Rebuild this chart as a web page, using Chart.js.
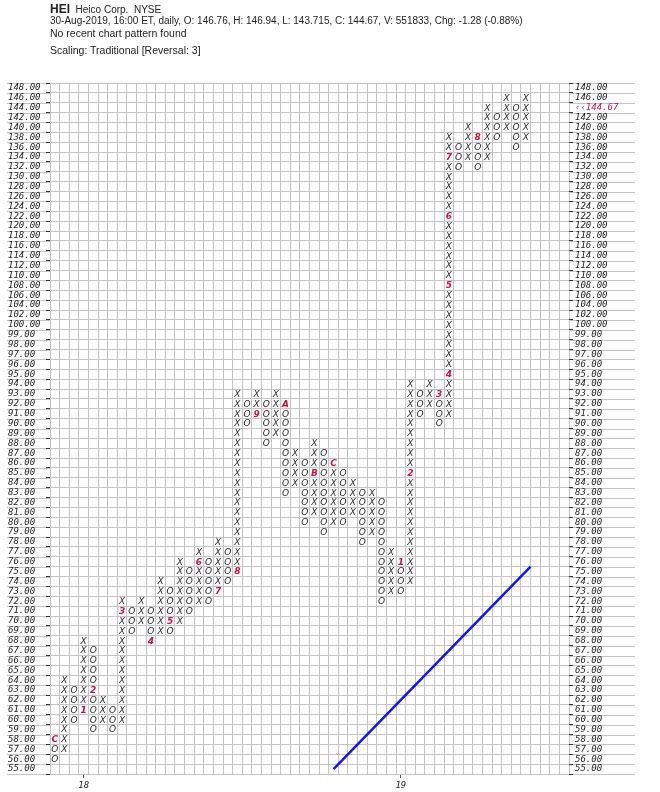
<!DOCTYPE html>
<html>
<head>
<meta charset="utf-8">
<script src="https://cdn.jsdelivr.net/npm/chart.js@4.4.1/dist/chart.umd.min.js"></script>
<style>
  html, body { margin: 0; padding: 0; background: #ffffff; }
  #wrap { position: relative; width: 660px; height: 792px; overflow: hidden; }
  #c { position: absolute; left: 0; top: 0; }
  .hdr { position: absolute; left: 50px; font-family: "Liberation Sans", Arial, sans-serif; color: #222; white-space: nowrap; }
</style>
</head>
<body>
<div id="wrap">
  <canvas id="c" width="660" height="792"></canvas>
  <div class="hdr" style="top:1px; line-height:14px;"><b style="font-size:12px;">HEI</b><span style="font-size:10px;">&nbsp; Heico Corp.&nbsp; NYSE</span></div>
  <div class="hdr" style="top:15px; font-size:10px; line-height:12px;">30-Aug-2019, 16:00 ET, daily, O: 146.76, H: 146.94, L: 143.715, C: 144.67, V: 551833, Chg: -1.28 (-0.88%)</div>
  <div class="hdr" style="top:27px; font-size:10.5px; line-height:12px;">No recent chart pattern found</div>
  <div class="hdr" style="top:44px; font-size:10.5px; line-height:12px;">Scaling: Traditional [Reversal: 3]</div>
</div>
<script>
// ---- price levels (box values, bottom to top) ----
const priceLevels = [55,56,57,58,59,60,61,62,63,64,65,66,67,68,69,70,71,72,73,74,75,76,77,78,79,
  80,81,82,83,84,85,86,87,88,89,90,91,92,93,94,95,96,97,98,99,
  100,102,104,106,108,110,112,114,116,118,120,122,124,126,128,130,132,134,136,138,140,142,144,146,148];
const lastPriceLabel = '\u2039\u2039144.67';
const lastPriceLevel = 144;

// ---- point & figure columns ----
const colKind   = ['O','X','O','X','O','X','O','X','O','X','O','X','O','X','O','X','O','X','O','X',
                   'O','X','O','X','O','X','O','X','O','X','O','X','O','X','O','X','O','X','O','X',
                   'O','X','O','X','O','X','O','X','O','X'];
const colHigh   = [58,64,63,68,67,62,61,72,71,72,71,74,73,76,75,77,76,78,77,93,
                   92,93,92,93,92,87,86,88,87,86,85,84,83,83,82,77,76,94,93,94,
                   93,138,136,140,138,144,142,146,144,146];
const colLow    = [56,57,60,61,59,60,59,60,69,70,68,69,69,70,71,72,72,73,74,75,
                   90,91,88,89,83,84,80,81,79,80,80,81,78,79,72,73,73,74,91,92,
                   90,91,132,134,132,134,138,140,136,138];

// ---- month markers (column, price, text) ----
const markerCol   = [0, 3, 4, 7, 10, 12, 15, 17, 19, 21, 24, 27, 29, 36, 37, 40, 41, 41, 41, 41, 44];
const markerPrice = [58, 61, 63, 71, 68, 70, 76, 73, 75, 91, 92, 85, 86, 76, 85, 93, 95, 108, 122, 134, 138];
const markerText  = ['C','1','2','3','4','5','6','7','8','9','A','B','C','1','2','3','4','5','6','7','8'];

// ---- year labels on the x axis ----
const yearCols   = [3, 36];
const yearLabels = ['18', '19'];

// ---- trend line (column, price) ----
const trendCols   = [29, 49.5];
const trendPrices = [55, 75.5];

const totalCols = 54;

// price -> box (row) index
function rowOf(p) {
  for (let i = 0; i < priceLevels.length - 1; i++) {
    if (p >= priceLevels[i] && p <= priceLevels[i + 1]) {
      return i + (p - priceLevels[i]) / (priceLevels[i + 1] - priceLevels[i]);
    }
  }
  return priceLevels.length - 1;
}
const markerKey = new Set(markerCol.map((c, i) => c + '_' + markerPrice[i]));

const xPts = [], oPts = [];
colKind.forEach((k, c) => {
  const r0 = rowOf(colLow[c]), r1 = rowOf(colHigh[c]);
  for (let r = r0; r <= r1; r++) {
    if (markerKey.has(c + '_' + priceLevels[r])) continue;
    (k === 'X' ? xPts : oPts).push({ x: c + 0.5, y: r + 0.5 });
  }
});
const mPts = markerCol.map((c, i) => ({ x: c + 0.5, y: rowOf(markerPrice[i]) + 0.5 }));
const trendPts = trendCols.map((c, i) => ({ x: c + 0.5, y: rowOf(trendPrices[i]) + 0.5 }));

const gridColor = '#c4c4c4';
const glyphFont = 'italic 9px "DejaVu Sans"';
const labelFont = { family: '"DejaVu Sans Mono"', size: 9, style: 'italic' };
const nRows = priceLevels.length;

function labelFor(v, right) {
  if (v >= nRows) return '';
  const p = priceLevels[v];
  if (right && p === lastPriceLevel) return lastPriceLabel;
  return p.toFixed(2);
}

const glyphPlugin = {
  id: 'glyphs',
  afterDatasetsDraw(chart) {
    const ctx = chart.ctx;
    chart.data.datasets.forEach((ds, i) => {
      if (!ds.glyphs) return;
      const meta = chart.getDatasetMeta(i);
      ctx.save();
      ctx.font = ds.glyphFont;
      ctx.fillStyle = ds.glyphColor;
      ctx.textAlign = 'center';
      ctx.textBaseline = 'middle';
      meta.data.forEach((el, j) => {
        const t = Array.isArray(ds.glyphs) ? ds.glyphs[j] : ds.glyphs;
        ctx.fillText(t, el.x, el.y + 0.5);
      });
      ctx.restore();
    });
  }
};

const extLines = {
  id: 'extLines',
  beforeDraw(chart) {
    const ctx = chart.ctx, y = chart.scales.y, a = chart.chartArea;
    ctx.save();
    ctx.strokeStyle = gridColor;
    ctx.lineWidth = 1;
    ctx.beginPath();
    for (let i = 0; i <= nRows; i++) {
      const py = Math.round(y.getPixelForValue(i)) + 0.5;
      ctx.moveTo(7, py); ctx.lineTo(a.left, py);
      ctx.moveTo(a.right, py); ctx.lineTo(635, py);
    }
    ctx.stroke();
    ctx.restore();
  }
};

const rowTicks = (s) => { s.ticks = Array.from({ length: nRows + 1 }, (_, i) => ({ value: i })); };

new Chart(document.getElementById('c'), {
  type: 'scatter',
  data: {
    datasets: [
      { label: 'trend', type: 'line', data: trendPts, borderColor: 'rgb(20,20,245)', borderWidth: 2.5,
        pointRadius: 0, fill: false, tension: 0 },
      { label: 'X', data: xPts, pointRadius: 0, glyphs: 'X', glyphFont: glyphFont, glyphColor: '#2a2a2a' },
      { label: 'O', data: oPts, pointRadius: 0, glyphs: 'O', glyphFont: glyphFont, glyphColor: '#2a2a2a' },
      { label: 'month', data: mPts, pointRadius: 0, glyphs: markerText, glyphFont: 'italic 600 9px "DejaVu Sans"', glyphColor: '#c8123f' }
    ]
  },
  options: {
    responsive: false,
    animation: false,
    events: [],
    layout: { padding: { left: 8, right: 25, top: 83, bottom: 0 } },
    plugins: { legend: { display: false }, tooltip: { enabled: false }, title: { display: false } },
    scales: {
      x: {
        type: 'linear', position: 'bottom', min: 0, max: totalCols, weight: 0,
        afterBuildTicks: (s) => { s.ticks = Array.from({ length: totalCols + 1 }, (_, i) => ({ value: i })); },
        afterFit: (s) => { s.height = 0; },
        ticks: { display: false },
        grid: { color: gridColor, drawTicks: false, lineWidth: 1 },
        border: { display: false }
      },
      xl: {
        type: 'linear', position: 'bottom', min: 0, max: totalCols, weight: 1,
        afterBuildTicks: (s) => { s.ticks = yearCols.map(c => ({ value: c + 0.5 })); },
        afterFit: (s) => { s.height = 18; },
        ticks: { autoSkip: false, maxRotation: 0, padding: 2, color: '#222', font: labelFont,
                 callback: (v) => { const i = yearCols.indexOf(v - 0.5); return i >= 0 ? yearLabels[i] : ''; } },
        grid: { drawOnChartArea: false, tickLength: 4, tickColor: '#555' },
        border: { display: false }
      },
      y: {
        type: 'linear', position: 'left', min: 0, max: nRows,
        afterBuildTicks: rowTicks,
        afterFit: (s) => { s.width = 42; },
        ticks: { autoSkip: false, crossAlign: 'far', labelOffset: -4.93, padding: 2, color: '#222', font: labelFont,
                 callback: (v) => labelFor(v, false) },
        grid: { color: gridColor, tickColor: '#333', tickLength: 4, lineWidth: 1 },
        border: { display: false }
      },
      yr: {
        type: 'linear', position: 'right', min: 0, max: nRows,
        afterBuildTicks: rowTicks,
        afterFit: (s) => { s.width = 66; },
        ticks: { autoSkip: false, crossAlign: 'near', labelOffset: -4.93, padding: 2, font: labelFont,
                 color: (ctx) => (ctx.tick && ctx.tick.value < nRows && priceLevels[ctx.tick.value] === lastPriceLevel) ? '#c8123f' : '#222',
                 callback: (v) => labelFor(v, true) },
        grid: { drawOnChartArea: false, tickColor: '#333', tickLength: 4 },
        border: { display: false }
      }
    }
  },
  plugins: [extLines, glyphPlugin]
});
</script>
</body>
</html>
